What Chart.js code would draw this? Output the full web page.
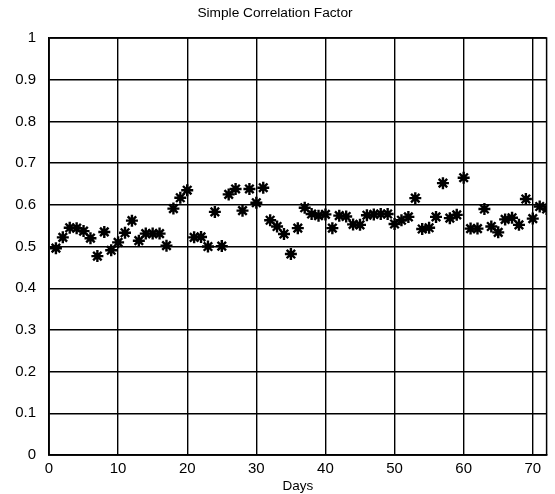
<!DOCTYPE html>
<html>
<head>
<meta charset="utf-8">
<script src="https://cdn.jsdelivr.net/npm/chart.js@4.4.0/dist/chart.umd.min.js"></script>
<style>
  html, body { margin: 0; padding: 0; background: #fff; }
  #wrap { width: 555px; height: 494px; }
</style>
</head>
<body>
<div id="wrap"><canvas id="corrChart" width="555" height="494"></canvas></div>
<script>
// day numbers and correlation values
const days = [
  1, 2, 3, 4, 5, 6, 7, 8, 9, 10, 11, 12, 13, 14, 15, 16, 17, 18,
  19, 20, 21, 22, 23, 24, 25, 26, 27, 28, 29, 30, 31, 32, 33, 34, 35, 36,
  37, 38, 39, 40, 41, 42, 43, 44, 45, 46, 47, 48, 49, 50, 51, 52, 53, 54,
  55, 56, 57, 58, 59, 60, 61, 62, 63, 64, 65, 66, 67, 68, 69, 70, 71, 72
];
const corrValues = [
  0.496, 0.522, 0.545, 0.544, 0.537, 0.520, 0.477, 0.535, 0.491, 0.510, 0.533, 0.562, 0.514, 0.531, 0.531, 0.531, 0.502, 0.591,
  0.617, 0.635, 0.522, 0.523, 0.500, 0.583, 0.501, 0.625, 0.638, 0.586, 0.638, 0.605, 0.641, 0.563, 0.548, 0.530, 0.482, 0.544,
  0.593, 0.578, 0.574, 0.577, 0.544, 0.574, 0.572, 0.553, 0.552, 0.575, 0.577, 0.578, 0.578, 0.554, 0.563, 0.571, 0.616, 0.542,
  0.545, 0.571, 0.652, 0.568, 0.576, 0.665, 0.543, 0.543, 0.590, 0.548, 0.534, 0.565, 0.569, 0.552, 0.614, 0.567, 0.596, 0.590
];
const xTicks = [0, 10, 20, 30, 40, 50, 60, 70];
const yTicks = [0, 0.1, 0.2, 0.3, 0.4, 0.5, 0.6, 0.7, 0.8, 0.9, 1];

const FONT = '"Liberation Sans", Arial, sans-serif';

// closed box round the plot area
const boxPlugin = {
  id: 'box',
  afterDraw(chart) {
    const a = chart.chartArea;
    const ctx = chart.ctx;
    ctx.save();
    ctx.strokeStyle = '#000';
    ctx.lineWidth = 1.5;
    ctx.strokeRect(a.left, a.top, a.right - a.left, a.bottom - a.top);
    ctx.restore();
  }
};

const ctx = document.getElementById('corrChart').getContext('2d');
new Chart(ctx, {
  type: 'scatter',
  data: {
    datasets: [{
      data: days.map((d, i) => ({ x: d, y: corrValues[i] })),
      pointStyle: 'star',
      pointRadius: 6,
      borderWidth: 2.4,
      borderColor: '#000',
      backgroundColor: '#000'
    }]
  },
  options: {
    responsive: false,
    animation: false,
    layout: { padding: { left: 0, right: 5, top: 0, bottom: 0 } },
    plugins: {
      legend: { display: false },
      tooltip: { enabled: false },
      title: {
        display: true,
        text: 'Simple Correlation Factor',
        color: '#000',
        font: { family: FONT, size: 13.7, weight: 'normal' },
        padding: { top: 5, bottom: 16.6 }
      }
    },
    scales: {
      x: {
        type: 'linear',
        min: 0,
        max: 72,
        afterBuildTicks: s => { s.ticks = xTicks.map(v => ({ value: v })); },
        afterFit: s => { s.height = 39; },
        grid: { color: '#000', lineWidth: 1.4, drawTicks: false },
        border: { color: '#000', width: 1.5 },
        ticks: { color: '#000', padding: 5, font: { family: FONT, size: 15 } },
        title: {
          display: true,
          text: 'Days',
          color: '#000',
          padding: 0,
          font: { family: FONT, size: 13.5 }
        }
      },
      y: {
        min: 0,
        max: 1,
        afterBuildTicks: s => { s.ticks = yTicks.map(v => ({ value: v })); },
        afterFit: s => { s.width = 49; },
        grid: { color: '#000', lineWidth: 1.4, drawTicks: false },
        border: { color: '#000', width: 1.5 },
        ticks: {
          color: '#000',
          padding: 13,
          font: { family: FONT, size: 15 },
          callback: v => String(+v.toFixed(1))
        }
      }
    }
  },
  plugins: [boxPlugin]
});
</script>
</body>
</html>
